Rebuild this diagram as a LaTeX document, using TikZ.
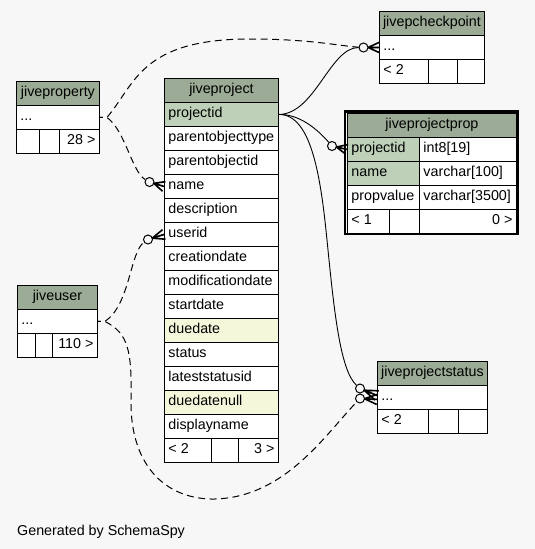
\documentclass[tikz,border=0pt]{standalone}
\usepackage{fontspec}
\setmainfont{Liberation Sans}
\usetikzlibrary{calc}
\definecolor{bgc}{HTML}{F7F7F7}
\definecolor{hdr}{HTML}{9BAB96}
\definecolor{pk}{HTML}{BED1B8}
\definecolor{idx}{HTML}{F4F7DA}
\tikzset{
 cell/.style={draw=black, line width=0.9pt, inner xsep=4pt, inner ysep=0pt, minimum height=24pt,
   text height=10pt, text depth=3pt, font=\fontsize{14.3}{16}\selectfont, anchor=north west},
 odot/.style={circle, draw=black, fill=bgc, line width=1pt, minimum size=9pt, inner sep=0pt},
 fkline/.style={draw=black, line width=0.9pt},
 dashline/.style={draw=black, line width=1pt, dash pattern=on 7pt off 4.5pt, dash phase=4pt},
 crowl/.style={draw=black, line width=1.6pt},
}
\newcommand\cell[7]{\node[cell,fill=#5,minimum width=#4pt] (#1) at (#2,#3) {\makebox[\dimexpr#4pt-8pt\relax][#6]{#7}};}
\newcommand\crowto[2]{%
 \draw[fkline] (#1) -- (#2);
 \draw[crowl] ($(#1)!4.5pt!(#2)$) -- ($(#2)!5pt!90:(#1)$)
              ($(#1)!4.5pt!(#2)$) -- ($(#2)!5pt!-90:(#1)$)
              ($(#1)!4.5pt!(#2)$) -- (#2);
}
\begin{document}
\begin{tikzpicture}[x=1pt,y=-1pt]
\useasboundingbox (0,0) rectangle (535,549);
\fill[bgc] (0,0) rectangle (535,549);

% jiveproperty
\cell{jprop-h}{16}{81}{83}{hdr}{c}{jiveproperty}
\cell{jprop-row}{16}{105}{83}{white}{l}{...}
\cell{jprop-f1}{16}{129}{23}{white}{l}{}
\cell{jprop-f2}{39}{129}{20}{white}{l}{}
\cell{jprop-f3}{59}{129}{40}{white}{r}{28 >}

% jiveuser
\cell{juser-h}{17}{285}{80}{hdr}{c}{jiveuser}
\cell{juser-row}{17}{309}{80}{white}{l}{...}
\cell{juser-f1}{17}{333}{18}{white}{l}{}
\cell{juser-f2}{35}{333}{17}{white}{l}{}
\cell{juser-f3}{52}{333}{45}{white}{r}{110 >}

% jiveproject
\cell{jp-h}{164}{78}{114}{hdr}{c}{jiveproject}
\cell{jp-projectid}{164}{102}{114}{pk}{l}{projectid}
\cell{jp-pot}{164}{126}{114}{white}{l}{parentobjecttype}
\cell{jp-poid}{164}{150}{114}{white}{l}{parentobjectid}
\cell{jp-name}{164}{174}{114}{white}{l}{name}
\cell{jp-desc}{164}{198}{114}{white}{l}{description}
\cell{jp-userid}{164}{222}{114}{white}{l}{userid}
\cell{jp-cdate}{164}{246}{114}{white}{l}{creationdate}
\cell{jp-mdate}{164}{270}{114}{white}{l}{modificationdate}
\cell{jp-sdate}{164}{294}{114}{white}{l}{startdate}
\cell{jp-ddate}{164}{318}{114}{idx}{l}{duedate}
\cell{jp-status}{164}{342}{114}{white}{l}{status}
\cell{jp-lsid}{164}{366}{114}{white}{l}{lateststatusid}
\cell{jp-ddnull}{164}{390}{114}{idx}{l}{duedatenull}
\cell{jp-dname}{164}{414}{114}{white}{l}{displayname}
\cell{jp-f1}{164}{438}{47}{white}{l}{< 2}
\cell{jp-f2}{211}{438}{27}{white}{l}{}
\cell{jp-f3}{238}{438}{40}{white}{r}{3 >}

% jivepcheckpoint
\cell{cp-h}{379}{11}{105}{hdr}{c}{jivepcheckpoint}
\cell{cp-row}{379}{35}{105}{white}{l}{...}
\cell{cp-f1}{379}{59}{49}{white}{l}{< 2}
\cell{cp-f2}{428}{59}{29}{white}{l}{}
\cell{cp-f3}{457}{59}{27}{white}{l}{}

% jiveprojectprop
\cell{ppr-h}{347}{113}{169}{hdr}{c}{jiveprojectprop}
\cell{ppr-pid}{347}{137}{72}{pk}{l}{projectid}
\cell{ppr-pidt}{419}{137}{97}{white}{l}{int8[19]}
\cell{ppr-name}{347}{161}{72}{pk}{l}{name}
\cell{ppr-namet}{419}{161}{97}{white}{l}{varchar[100]}
\cell{ppr-pv}{347}{185}{72}{white}{l}{propvalue}
\cell{ppr-pvt}{419}{185}{97}{white}{l}{varchar[3500]}
\cell{ppr-f1}{347}{209}{42}{white}{l}{< 1}
\cell{ppr-f2}{389}{209}{30}{white}{l}{}
\cell{ppr-f3}{419}{209}{97}{white}{r}{0 >}
\draw[line width=2.2pt] (345,111.5) rectangle (517.6,234);

% jiveprojectstatus
\cell{st-h}{377}{361}{110}{hdr}{c}{jiveprojectstatus}
\cell{st-row}{377}{385}{110}{white}{l}{...}
\cell{st-f1}{377}{409}{51}{white}{l}{< 2}
\cell{st-f2}{428}{409}{30}{white}{l}{}
\cell{st-f3}{458}{409}{29}{white}{l}{}

% circles (optional-many ends)
\node[odot] (c1) at (363.5,47.5) {};
\node[odot] (c3) at (149.5,182) {};
\node[odot] (c4) at (332,146) {};
\node[odot] (c5) at (360,388.5) {};
\node[odot] (c6) at (148,239.5) {};
\node[odot] (c7) at (360,398.5) {};
\coordinate (st-in1) at ($(st-row.west)+(0,-2)$);
\coordinate (st-in2) at ($(st-row.west)+(0,2)$);

% solid edges from projectid
\draw[fkline] (jp-projectid.east) .. controls (315,114) and (330,47.5) .. (c1);
\draw[fkline] (jp-projectid.east) .. controls (300,114) and (318,130) .. (c4);
\draw[fkline] (jp-projectid.east) .. controls (312,114) and (321,180) .. (327,240)
   .. controls (334,310) and (340,370) .. (c5);

% dashed edges
\draw[dashline] (jprop-row.east) -- ++(7,0) .. controls (135,85) and (140,39) .. (250,39)
   .. controls (310,39) and (340,46) .. (c1);
\draw[dashline] (jprop-row.east) -- ++(7,0) .. controls (125,130) and (132,172) .. (c3);
\draw[dashline] (juser-row.east) -- ++(7,0) .. controls (130,305) and (130,252) .. (c6);
\draw[dashline] (juser-row.east) -- ++(7,0) .. controls (128,333) and (132,350) .. (131,400)
   .. controls (130,470) and (170,500) .. (215,499)
   .. controls (285,497) and (325,435) .. (c7);

% crow's feet
\crowto{c1}{cp-row.west}
\crowto{c3}{jp-name.west}
\crowto{c4}{ppr-pid.west}
\crowto{c5}{st-in1}
\crowto{c6}{jp-userid.west}
\crowto{c7}{st-in2}

\node[font=\fontsize{14.3}{16}\selectfont, anchor=base west, inner sep=0pt] (gen) at (17,535) {Generated by SchemaSpy};
\end{tikzpicture}
\end{document}
